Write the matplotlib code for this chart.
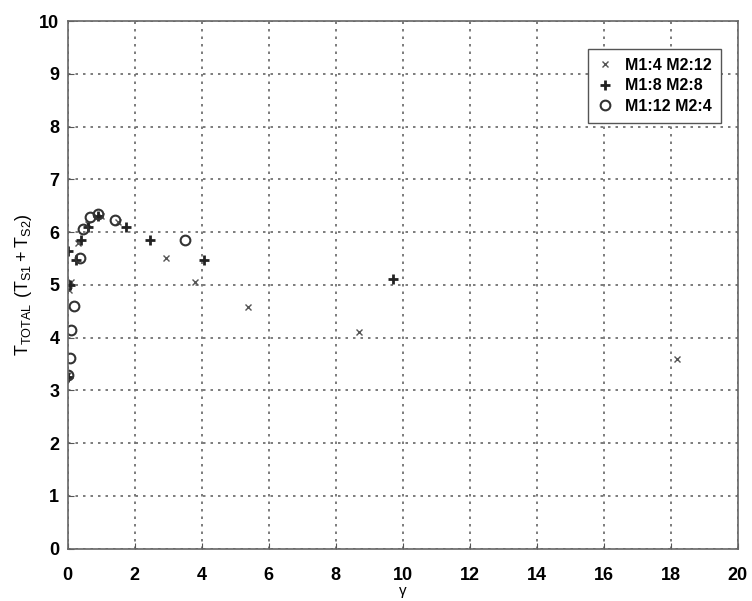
import numpy as np
import matplotlib
matplotlib.use("Agg")
import matplotlib.pyplot as plt

plt.rcParams['font.family'] = ['Liberation Sans', 'DejaVu Sans']
plt.rcParams['mathtext.default'] = 'regular'

# M1:4 M2:12  (x markers)
gamma_a = [0.01, 0.05, 0.1, 0.3, 0.6, 1.0, 1.5, 2.93, 3.8, 5.37, 8.7, 18.2]
t_a = [3.3, 4.9, 5.05, 5.8, 6.15, 6.3, 6.2, 5.5, 5.05, 4.58, 4.1, 3.6]

# M1:8 M2:8  (+ markers)
gamma_b = [0.0, 0.02, 0.08, 0.25, 0.4, 0.6, 0.9, 1.75, 2.45, 4.06, 9.7]
t_b = [3.25, 5.65, 5.0, 5.48, 5.85, 6.1, 6.3, 6.1, 5.85, 5.48, 5.12]

# M1:12 M2:4  (circles)
gamma_c = [0.01, 0.06, 0.1, 0.18, 0.36, 0.45, 0.66, 0.9, 1.4, 3.5]
t_c = [3.3, 3.62, 4.15, 4.6, 5.5, 6.05, 6.28, 6.35, 6.22, 5.85]

labels = ['M1:4 M2:12', 'M1:8 M2:8', 'M1:12 M2:4']
xticks = np.arange(0, 21, 2)
yticks = np.arange(0, 11, 1)

fig = plt.figure(figsize=(7.52, 6.01), dpi=100)
ax = fig.add_axes([0.09, 0.087, 0.891, 0.878])

ax.plot(gamma_a, t_a, 'x', color='#555555', ms=4, mew=1.0, label=labels[0])
ax.plot(gamma_b, t_b, '+', color='#222222', ms=7, mew=2.0, label=labels[1])
ax.plot(gamma_c, t_c, 'o', mfc='none', mec='#333333', ms=7, mew=1.5, label=labels[2])

ax.set_xlim(0, 20)
ax.set_ylim(0, 10)
ax.set_xticks(xticks)
ax.set_yticks(yticks)
ax.grid(True, linestyle=(0, (1.5, 3)), color='#666666', linewidth=1.2)
ax.tick_params(direction='in', length=4, color='#555555', labelsize=13, pad=6)
ax.tick_params(axis='x', pad=13)
for lab in ax.get_xticklabels() + ax.get_yticklabels():
    lab.set_fontweight('bold')
for sp in ax.spines.values():
    sp.set_color('#666666')
    sp.set_linewidth(1.2)

ax.set_xlabel('γ', fontsize=11, labelpad=0)
ax.set_ylabel(r'$T_{TOTAL}\ (T_{S1}+T_{S2})$', fontsize=13, labelpad=4)

leg = ax.legend(loc='upper right', bbox_to_anchor=(0.987, 0.962), fancybox=False,
                edgecolor='#555555', framealpha=1, prop={'size': 11.5, 'weight': 'bold'},
                handletextpad=0.8, borderpad=0.55, labelspacing=0.35, handlelength=1.0)
leg.get_frame().set_linewidth(1.0)

fig.savefig('out.png', dpi=100)
